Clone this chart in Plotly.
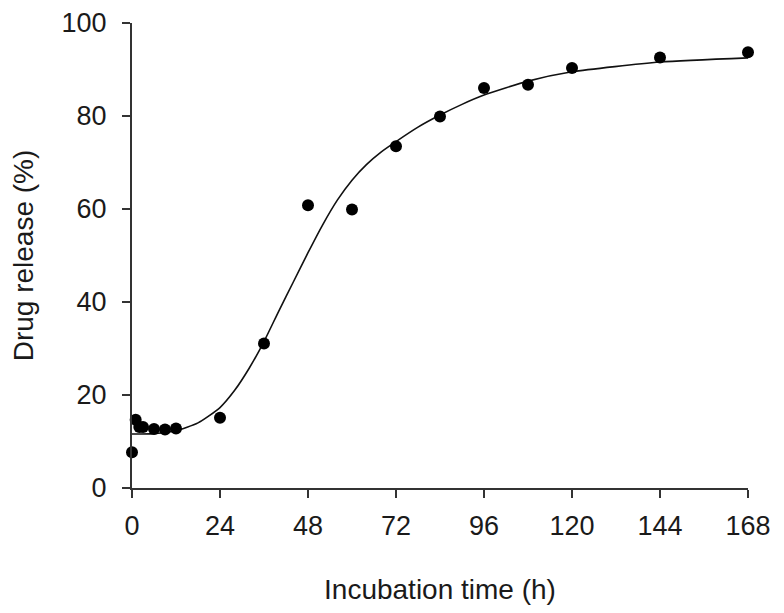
import plotly.graph_objects as go

time_h = [0, 1, 2, 3, 6, 9, 12, 24, 36, 48, 60, 72, 84, 96, 108, 120, 144, 168]
release_pct = [7.7, 14.7, 13.1, 13.1, 12.7, 12.6, 12.8, 15.1, 31.1, 60.8, 59.9,
               73.5, 79.9, 86.0, 86.7, 90.3, 92.6, 93.7]

# Fitted curve, points
fit_time = [0, 6, 12, 18, 24, 28, 32, 36, 40, 44, 48, 52, 56, 60, 64, 68, 72,
            78, 84, 90, 96, 108, 120, 144, 168]
fit_release = [11.6, 11.7, 12.3, 14.0, 17.3, 21.0, 25.8, 31.5, 38.0, 44.3, 50.6,
               56.6, 61.9, 66.2, 69.6, 72.3, 74.5, 77.6, 80.2, 82.5, 84.5, 87.5,
               89.5, 91.6, 92.5]

x_ticks = [0, 24, 48, 72, 96, 120, 144, 168]
y_ticks = [0, 20, 40, 60, 80, 100]

fig = go.Figure()
fig.add_trace(go.Scatter(
    x=fit_time, y=fit_release, mode="lines",
    line=dict(color="#111111", width=1.6, shape="spline", smoothing=0.6),
    showlegend=False, hoverinfo="skip"))
fig.add_trace(go.Scatter(
    x=time_h, y=release_pct, mode="markers",
    marker=dict(color="#000000", size=12),
    cliponaxis=False, showlegend=False))

font_family = "Liberation Sans, Arial, sans-serif"
fig.update_layout(
    width=784, height=613,
    margin=dict(l=124, r=44, t=15, b=133),
    paper_bgcolor="white", plot_bgcolor="white",
    font=dict(family=font_family, color="#1a1a1a", size=27),
)
fig.update_xaxes(
    range=[0, 168], tickvals=x_ticks, ticktext=[str(v) for v in x_ticks],
    automargin=False,
    showline=True, linecolor="#333333", linewidth=2,
    ticks="outside", ticklen=8, tickwidth=2, tickcolor="#333333",
    showgrid=False, zeroline=False, ticklabelstandoff=5,
    tickfont=dict(size=27),
    title=dict(text="Incubation time (h)", font=dict(size=28), standoff=39),
)
fig.update_yaxes(
    range=[0, 100], tickvals=y_ticks, ticktext=[str(v) for v in y_ticks],
    automargin=False,
    showline=True, linecolor="#333333", linewidth=2,
    ticks="outside", ticklen=8, tickwidth=2, tickcolor="#333333",
    showgrid=False, zeroline=False, ticklabelstandoff=10,
    tickfont=dict(size=27),
    title=dict(text="Drug release (%)", font=dict(size=28), standoff=22),
)

fig.write_html("out.html")
